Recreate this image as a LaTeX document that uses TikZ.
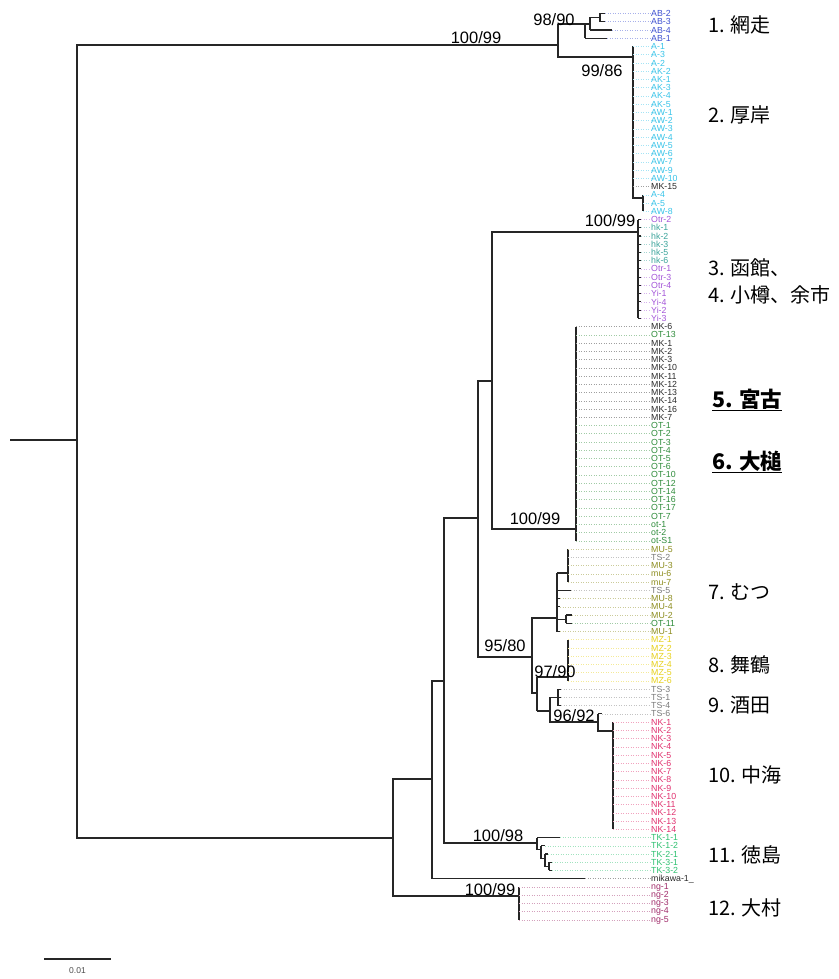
\documentclass[tikz,border=0pt]{standalone}
\usepackage{fontspec}
\setmainfont{Liberation Sans}
\newfontfamily\cjk{Noto Sans CJK JP}
\usepackage{xcolor}
\usetikzlibrary{positioning}
\definecolor{abblue}{HTML}{3D4FD0}
\definecolor{akcyan}{HTML}{38C3E8}
\definecolor{hkteal}{HTML}{3AA39A}
\definecolor{otrpurple}{HTML}{A355D8}
\definecolor{mkblack}{HTML}{2A2A2A}
\definecolor{otgreen}{HTML}{2E8B3A}
\definecolor{muolive}{HTML}{8C8C1E}
\definecolor{tsgray}{HTML}{7A7A7A}
\definecolor{mzyellow}{HTML}{E6D01A}
\definecolor{nkpink}{HTML}{E0306E}
\definecolor{tkgreen}{HTML}{2EC070}
\definecolor{ngmagenta}{HTML}{A02C6A}

% index, label, colour, branch start, branch end
\newcommand{\drawleaf}[5]{%
  \pgfmathsetmacro{\ly}{13.5+8.24*#1}
  \node[tiplab,text=#3] (t#1) at (651,\ly) {#2};
  \draw[branch] (#4,\ly) -- (#5,\ly);
  \draw[leader,draw=#3!45] (#5,\ly) -- (t#1.west);
}

\begin{document}
\begin{tikzpicture}[x=1pt,y=-1pt,
  branch/.style={line width=1.1pt, draw=black!85},
  leader/.style={dotted, line width=0.5pt},
  tiplab/.style={anchor=west, inner sep=0pt, font=\fontsize{8.8}{9}\selectfont},
  support/.style={inner sep=0pt, font=\fontsize{16.5}{18}\selectfont},
  place/.style={anchor=west, inner sep=0pt, font=\cjk\fontsize{20}{23}\selectfont}]
  \useasboundingbox (0,0) rectangle (838,979);

  % backbone
  \draw[branch] (10,440) -- (77,440);
  \draw[branch] (558,45) -- (77,45) -- (77,838) -- (393,838);
  \draw[branch] (558,24) -- (558,57) -- (633,57);
  \draw[branch] (492,381) -- (478,381) -- (478,657) -- (532,657);
  \draw[branch] (638,232) -- (492,232) -- (492,529) -- (576,529);
  \draw[branch] (478,518) -- (444,518) -- (444,843) -- (537,843);
  \draw[branch] (444,681) -- (432,681) -- (432,878.7) -- (585,878.7);
  \draw[branch] (432,779) -- (393,779) -- (393,896) -- (519,896);

  % 1
  \draw[branch] (558,24) -- (590,24);
  \draw[branch] (585,24) -- (585,38.22);
  \draw[branch] (590,29.98) -- (590,17.62) -- (600,17.62);
  \draw[branch] (600,13.5) -- (600,21.74);
  \drawleaf{0}{AB-2}{abblue}{600}{605}
  \drawleaf{1}{AB-3}{abblue}{600}{605}
  \drawleaf{2}{AB-4}{abblue}{590}{612}
  \drawleaf{3}{AB-1}{abblue}{585}{607}

  % 2
  \draw[branch] (633,46.46) -- (633,198) -- (643,198);
  \draw[branch] (643,194.78) -- (643,211.26);
  \foreach \lab [count=\k from 4] in {A-1,A-3,A-2,AK-2,AK-1,AK-3,AK-4,AK-5,AW-1,AW-2,AW-3,AW-4,AW-5,AW-6,AW-7,AW-9,AW-10}
    {\drawleaf{\k}{\lab}{akcyan}{633}{633}}
  \drawleaf{21}{MK-15}{mkblack}{633}{633}
  \foreach \lab [count=\k from 22] in {A-4,A-5,AW-8}
    {\drawleaf{\k}{\lab}{akcyan}{643}{643}}

  % 3, 4
  \draw[branch] (638,219.5) -- (638,318.38);
  \drawleaf{25}{Otr-2}{otrpurple}{638}{641}
  \foreach \lab [count=\k from 26] in {hk-1,hk-2,hk-3,hk-5,hk-6}
    {\drawleaf{\k}{\lab}{hkteal}{638}{641}}
  \foreach \lab [count=\k from 31] in {Otr-1,Otr-3,Otr-4,Yi-1,Yi-4,Yi-2,Yi-3}
    {\drawleaf{\k}{\lab}{otrpurple}{638}{641}}

  % 5, 6
  \draw[branch] (576,326.62) -- (576,540.86);
  \drawleaf{38}{MK-6}{mkblack}{576}{576}
  \drawleaf{39}{OT-13}{otgreen}{576}{576}
  \foreach \lab [count=\k from 40] in {MK-1,MK-2,MK-3,MK-10,MK-11,MK-12,MK-13,MK-14,MK-16,MK-7}
    {\drawleaf{\k}{\lab}{mkblack}{576}{576}}
  \foreach \lab [count=\k from 50] in {OT-1,OT-2,OT-3,OT-4,OT-5,OT-6,OT-10,OT-12,OT-14,OT-16,OT-17,OT-7,ot-1,ot-2,ot-S1}
    {\drawleaf{\k}{\lab}{otgreen}{576}{576}}

  % 7
  \draw[branch] (557,618) -- (532,618) -- (532,693) -- (537,693);
  \draw[branch] (557,573) -- (557,631.5);
  \draw[branch] (557,573) -- (568,573);
  \draw[branch] (568,549.1) -- (568,582.06);
  \draw[branch] (557,619.14) -- (566,619.14);
  \draw[branch] (566,615.02) -- (566,623.26);
  \drawleaf{65}{MU-5}{muolive}{568}{568}
  \drawleaf{66}{TS-2}{tsgray}{568}{568}
  \drawleaf{67}{MU-3}{muolive}{568}{568}
  \drawleaf{68}{mu-6}{muolive}{568}{568}
  \drawleaf{69}{mu-7}{muolive}{568}{568}
  \drawleaf{70}{TS-5}{tsgray}{557}{571}
  \drawleaf{71}{MU-8}{muolive}{557}{560}
  \drawleaf{72}{MU-4}{muolive}{557}{560}
  \drawleaf{73}{MU-2}{muolive}{566}{572}
  \drawleaf{74}{OT-11}{otgreen}{566}{572}
  \drawleaf{75}{MU-1}{muolive}{557}{560}

  % 8
  \draw[branch] (537,677) -- (537,711);
  \draw[branch] (537,677) -- (568,677);
  \draw[branch] (568,639.74) -- (568,680.94);
  \foreach \lab [count=\k from 76] in {MZ-1,MZ-2,MZ-3,MZ-4,MZ-5,MZ-6}
    {\drawleaf{\k}{\lab}{mzyellow}{568}{568}}

  % 9, 10
  \draw[branch] (537,711) -- (550,711);
  \draw[branch] (550,697.42) -- (550,722) -- (598,722);
  \draw[branch] (550,697.42) -- (558,697.42);
  \draw[branch] (558,689.18) -- (558,705.66);
  \draw[branch] (598,713.9) -- (598,731) -- (613,731);
  \foreach \lab [count=\k from 82] in {TS-3,TS-1,TS-4}
    {\drawleaf{\k}{\lab}{tsgray}{558}{561}}
  \drawleaf{85}{TS-6}{tsgray}{598}{602}
  \draw[branch] (613,722.14) -- (613,829.26);
  \foreach \lab [count=\k from 86] in {NK-1,NK-2,NK-3,NK-4,NK-5,NK-6,NK-7,NK-8,NK-9,NK-10,NK-11,NK-12,NK-13,NK-14}
    {\drawleaf{\k}{\lab}{nkpink}{613}{613}}

  % 11
  \draw[branch] (537,837.5) -- (537,849.8) -- (541,849.8);
  \draw[branch] (541,845.74) -- (541,858.1) -- (545,858.1);
  \draw[branch] (545,853.98) -- (545,866.3) -- (549,866.3);
  \draw[branch] (549,862.22) -- (549,870.46);
  \drawleaf{100}{TK-1-1}{tkgreen}{537}{560}
  \drawleaf{101}{TK-1-2}{tkgreen}{541}{545}
  \drawleaf{102}{TK-2-1}{tkgreen}{545}{548}
  \drawleaf{103}{TK-3-1}{tkgreen}{549}{552}
  \drawleaf{104}{TK-3-2}{tkgreen}{549}{552}

  \drawleaf{105}{mikawa-1\_}{mkblack}{585}{585}

  % 12
  \draw[branch] (519,886.94) -- (519,919.9);
  \foreach \lab [count=\k from 106] in {ng-1,ng-2,ng-3,ng-4,ng-5}
    {\drawleaf{\k}{\lab}{ngmagenta}{519}{519}}

  % bootstrap values
  \node[support] (bs1) at (476,38) {100/99};
  \node[support] (bs2) at (554,20) {98/90};
  \node[support] (bs3) at (602,71) {99/86};
  \node[support] (bs4) at (610,221) {100/99};
  \node[support] (bs5) at (535,519) {100/99};
  \node[support] (bs6) at (505,646) {95/80};
  \node[support] (bs7) at (555,672) {97/90};
  \node[support] (bs8) at (574,716) {96/92};
  \node[support] (bs9) at (498,836) {100/98};
  \node[support] (bs10) at (490,890) {100/99};

  % localities
  \node[place] (p1) at (708,25) {1. 網走};
  \node[place] (p2) at (708,115) {2. 厚岸};
  \node[place] (p3) at (708,268) {3. 函館、};
  \node[place] (p4) at (708,295) {4. 小樽、余市};
  \node[place, font=\cjk\fontsize{21.5}{24}\selectfont] (p5) at (712,400) {\bfseries\underline{5. 宮古}};
  \node[place, font=\cjk\fontsize{21.5}{24}\selectfont] (p6) at (712,462) {\bfseries\underline{6. 大槌}};
  \node[place] (p7) at (708,592) {7. むつ};
  \node[place] (p8) at (708,665) {8. 舞鶴};
  \node[place] (p9) at (708,705) {9. 酒田};
  \node[place] (p10) at (708,775) {10. 中海};
  \node[place] (p11) at (708,855) {11. 徳島};
  \node[place] (p12) at (708,908) {12. 大村};

  % scale
  \coordinate (sb1) at (44,959);
  \coordinate (sb2) at (111,959);
  \coordinate (sbm) at (77.5,959);
  \draw[branch] (sb1) -- (sb2);
  \node[inner sep=0pt, text=black!70, font=\fontsize{8.5}{9}\selectfont, below=8pt of sbm] (sbl) {0.01};
\end{tikzpicture}
\end{document}
